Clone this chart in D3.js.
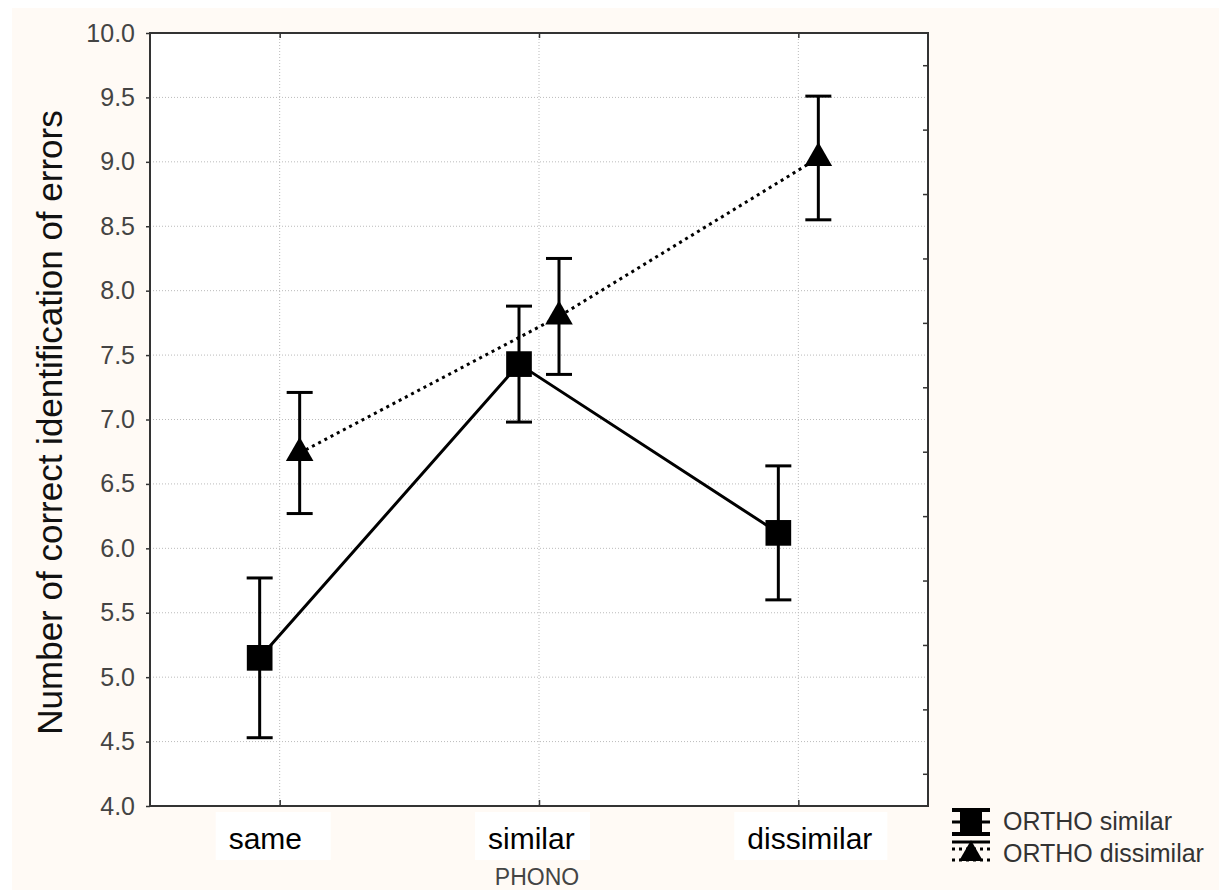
<!DOCTYPE html>
<html>
<head>
    <meta charset="utf-8" />
    <title>Correct identification of errors</title>
    <style>
        body { margin: 0; background: #fff; }
        text { font-family: Arial, "Liberation Sans", sans-serif; }
    </style>
    <script src="https://cdn.jsdelivr.net/npm/d3@7/dist/d3.min.js"></script>
</head>
<body>
<script>
    // data
    var categories = ['same', 'similar', 'dissimilar'];
    var seriesNames = ['ORTHO similar', 'ORTHO dissimilar'];
    var orthoSimilarMean = [5.15, 7.43, 6.12];
    var orthoSimilarErr = [0.62, 0.45, 0.52];
    var orthoDissimilarMean = [6.74, 7.80, 9.03];
    var orthoDissimilarErr = [0.47, 0.45, 0.48];
    var yTicks = [4.0, 4.5, 5.0, 5.5, 6.0, 6.5, 7.0, 7.5, 8.0, 8.5, 9.0, 9.5, 10.0];

    var margin = { top: 33, right: 291, bottom: 84, left: 150 };
    var width = 1219 - margin.left - margin.right,
        height = 890 - margin.top - margin.bottom;

    var svg = d3.select('body').append('svg')
        .attr('width', 1219)
        .attr('height', 890);

    // cream background
    svg.append('rect')
        .attr('x', 12).attr('y', 8)
        .attr('width', 1219 - 12).attr('height', 890 - 8)
        .attr('fill', '#fffaf5');

    var g = svg.append('g')
        .attr('transform', 'translate(' + margin.left + ',' + margin.top + ')');

    var x = d3.scalePoint().domain(categories).range([0, width]).padding(0.5);
    var y = d3.scaleLinear().domain([4, 10]).range([height, 0]);

    g.append('rect')
        .attr('width', width).attr('height', height)
        .attr('fill', '#fff');

    // grid
    g.append('g').selectAll('line').data(yTicks.slice(1, -1)).enter().append('line')
        .attr('x1', 0).attr('x2', width)
        .attr('y1', function(d) { return y(d); }).attr('y2', function(d) { return y(d); })
        .attr('stroke', '#bbb').attr('stroke-dasharray', '1,2');
    g.append('g').selectAll('line').data(categories).enter().append('line')
        .attr('y1', 0).attr('y2', height)
        .attr('x1', function(d) { return x(d); }).attr('x2', function(d) { return x(d); })
        .attr('stroke', '#bbb').attr('stroke-dasharray', '1,2');

    // left axis
    var yAxis = g.append('g')
        .call(d3.axisLeft(y).tickValues(yTicks).tickSize(4).tickPadding(11).tickFormat(d3.format('.1f')));
    yAxis.select('.domain').remove();
    yAxis.selectAll('line').attr('stroke', '#333').attr('stroke-width', 1.5);
    yAxis.selectAll('text').attr('font-size', 25).attr('fill', '#444')
        .attr('font-family', 'Arial, "Liberation Sans", sans-serif');

    // right axis minor ticks, inward
    var minor = yTicks.slice(0, -1).map(function(d) { return d + 0.25; });
    var rAxis = g.append('g')
        .attr('transform', 'translate(' + width + ',0)')
        .call(d3.axisLeft(y).tickValues(minor).tickSize(5).tickFormat(''));
    rAxis.select('.domain').remove();
    rAxis.selectAll('line').attr('stroke', '#333').attr('stroke-width', 1.5);

    // top / bottom ticks at categories, inward
    var bAxis = g.append('g')
        .attr('transform', 'translate(0,' + height + ')')
        .call(d3.axisTop(x).tickSize(6).tickFormat(''));
    bAxis.select('.domain').remove();
    bAxis.selectAll('line').attr('stroke', '#333').attr('stroke-width', 1.5);
    var tAxis = g.append('g')
        .call(d3.axisBottom(x).tickSize(5).tickFormat(''));
    tAxis.select('.domain').remove();
    tAxis.selectAll('line').attr('stroke', '#333').attr('stroke-width', 1.5);

    // frame
    g.append('rect')
        .attr('width', width).attr('height', height)
        .attr('fill', 'none').attr('stroke', '#333').attr('stroke-width', 2);

    // category labels on white boxes (left-aligned in a box starting left of the tick)
    var catLabels = g.append('g').selectAll('g').data(categories).enter().append('g')
        .attr('transform', function(d) { return 'translate(' + (x(d) - 64) + ',' + (height + 6) + ')'; });
    var boxes = catLabels.append('rect')
        .attr('x', 0).attr('y', 0).attr('height', 48)
        .attr('fill', '#fff');
    catLabels.append('text')
        .attr('x', 13).attr('y', 37)
        .attr('font-size', 30).attr('fill', '#000')
        .text(function(d) { return d; })
        .each(function() {
            var w = this.getComputedTextLength();
            d3.select(this.parentNode).select('rect').attr('width', Math.max(115, w + 28));
        });

    // axis titles
    g.append('text')
        .attr('x', width / 2 - 2).attr('y', height + 79)
        .attr('text-anchor', 'middle').attr('font-size', 23).attr('fill', '#444')
        .text('PHONO');
    g.append('text')
        .attr('transform', 'rotate(-90)')
        .attr('x', -height / 2 - 3).attr('y', -88)
        .attr('text-anchor', 'middle').attr('font-size', 35).attr('fill', '#111')
        .text('Number of correct identification of errors');

    // series
    var series = [
        { name: seriesNames[0], mean: orthoSimilarMean, err: orthoSimilarErr, dx: -20, dash: null, shape: d3.symbolSquare },
        { name: seriesNames[1], mean: orthoDissimilarMean, err: orthoDissimilarErr, dx: 20, dash: '3,4', shape: d3.symbolTriangle }
    ];

    var line = d3.line()
        .x(function(d) { return d.x; })
        .y(function(d) { return d.y; });

    series.forEach(function(s) {
        var pts = categories.map(function(c, i) {
            return { x: x(c) + s.dx, y: y(s.mean[i]), lo: y(s.mean[i] - s.err[i]), hi: y(s.mean[i] + s.err[i]) };
        });
        var sg = g.append('g');
        sg.append('path')
            .attr('d', line(pts))
            .attr('fill', 'none').attr('stroke', '#000').attr('stroke-width', 3)
            .attr('stroke-dasharray', s.dash);
        var eb = sg.selectAll('.eb').data(pts).enter().append('g');
        eb.append('line')
            .attr('x1', function(d) { return d.x; }).attr('x2', function(d) { return d.x; })
            .attr('y1', function(d) { return d.lo; }).attr('y2', function(d) { return d.hi; })
            .attr('stroke', '#000').attr('stroke-width', 3);
        [ 'lo', 'hi' ].forEach(function(k) {
            eb.append('line')
                .attr('x1', function(d) { return d.x - 13; }).attr('x2', function(d) { return d.x + 13; })
                .attr('y1', function(d) { return d[k]; }).attr('y2', function(d) { return d[k]; })
                .attr('stroke', '#000').attr('stroke-width', 3);
        });
        eb.append('path')
            .attr('transform', function(d) { return 'translate(' + d.x + ',' + d.y + ')'; })
            .attr('d', d3.symbol().type(s.shape).size(s.shape === d3.symbolSquare ? 660 : 330))
            .attr('fill', '#000');
    });

    // legend
    var legend = svg.append('g').attr('transform', 'translate(952,808)');
    var l1 = legend.append('g');
    l1.append('rect').attr('x', 8).attr('y', 2).attr('width', 22).attr('height', 24).attr('fill', '#000');
    [2, 26].forEach(function(yy) {
        l1.append('line').attr('x1', 0).attr('x2', 38).attr('y1', yy).attr('y2', yy)
            .attr('stroke', '#000').attr('stroke-width', 4);
    });
    l1.append('line').attr('x1', 0).attr('x2', 38).attr('y1', 14).attr('y2', 14)
        .attr('stroke', '#000').attr('stroke-width', 3);
    l1.append('text').attr('x', 51).attr('y', 22).attr('font-size', 25).attr('fill', '#333').text(seriesNames[0]);
    var l2 = legend.append('g').attr('transform', 'translate(0,32)');
    l2.append('line').attr('x1', 0).attr('x2', 38).attr('y1', 2).attr('y2', 2)
        .attr('stroke', '#000').attr('stroke-width', 3);
    l2.append('path').attr('transform', 'translate(19,14)')
        .attr('d', d3.symbol().type(d3.symbolTriangle).size(250)).attr('fill', '#000');
    [9, 20].forEach(function(yy) {
        l2.append('line').attr('x1', 0).attr('x2', 38).attr('y1', yy).attr('y2', yy)
            .attr('stroke', '#000').attr('stroke-width', 3).attr('stroke-dasharray', '3,4');
    });
    l2.append('text').attr('x', 51).attr('y', 22).attr('font-size', 25).attr('fill', '#333').text(seriesNames[1]);
</script>
</body>
</html>
